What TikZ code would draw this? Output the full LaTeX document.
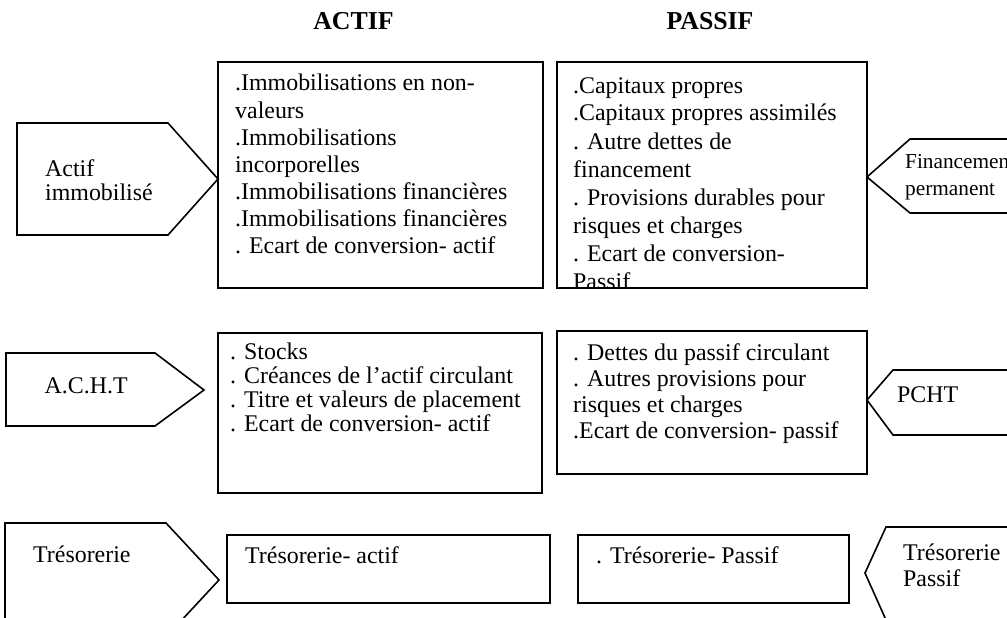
\documentclass[tikz,border=0pt]{standalone}
\usepackage{fontspec}
\setmainfont{Liberation Serif}
\begin{document}
\begin{tikzpicture}[x=1pt,y=-1pt,
  frame/.style={draw=black, line width=1.6pt, line join=miter},
  txt/.style={anchor=base west, inner sep=0pt, font=\fontsize{23.9}{27}\selectfont},
  smalltxt/.style={anchor=base west, inner sep=0pt, font=\fontsize{21.3}{25}\selectfont},
  title/.style={anchor=base, inner sep=0pt, font=\bfseries\fontsize{25.8}{30}\selectfont}]
\clip (0,0) rectangle (1007,618);
\fill[white] (0,0) rectangle (1007,618);

% titles
\node[title] (actif) at (353.5,29.5) {ACTIF};
\node[title] (passif) at (710,29.5) {PASSIF};

% ---------- row 1 ----------
\draw[frame] (17,123) -- (168,123) -- (218,179) -- (168,235) -- (17,235) -- cycle;
\node[txt] (ai1) at (45,176) {Actif};
\node[txt] (ai2) at (45,200) {immobilisé};

\draw[frame] (218,62) rectangle (543,288);
\foreach \t [count=\i] in {{.Immobilisations en non-},{valeurs},{.Immobilisations},{incorporelles},{.Immobilisations financières},{.Immobilisations financières},{. Ecart de conversion- actif}}
  \node[txt] (ba\i) at (235,{91+27*(\i-1)}) {\t};

\draw[frame] (557,62) rectangle (867,288);
\begin{scope}
\clip (557,62) rectangle (867,287);
\foreach \t [count=\i] in {{.Capitaux propres},{.Capitaux propres assimilés},{. Autre dettes de},{financement},{. Provisions durables pour},{risques et charges},{. Ecart de conversion-},{Passif}}
  \node[txt] (bp\i) at (573,{93+28*(\i-1)}) {\t};
\end{scope}

\draw[frame] (867,177) -- (910,139) -- (1020,139) -- (1020,213) -- (910,213) -- cycle;
\node[smalltxt] (fp1) at (905,168) {Financement};
\node[smalltxt] (fp2) at (905,195) {permanent};

% ---------- row 2 ----------
\draw[frame] (6,353) -- (155,353) -- (204,390) -- (155,426) -- (6,426) -- cycle;
\node[txt] (acht) at (44.5,393) {A.C.H.T};

\draw[frame] (218,333) rectangle (542,493);
\foreach \t [count=\i] in {{. Stocks},{. Créances de l’actif circulant},{. Titre et valeurs de placement},{. Ecart de conversion- actif}}
  \node[txt] (bc\i) at (230,{359+24*(\i-1)}) {\t};

\draw[frame] (557,331) rectangle (867,474);
\foreach \t [count=\i] in {{. Dettes du passif circulant},{. Autres provisions pour},{risques et charges},{.Ecart de conversion- passif}}
  \node[txt] (bd\i) at (573,{360+26*(\i-1)}) {\t};

\draw[frame] (867,400) -- (893,370) -- (1020,370) -- (1020,435) -- (893,435) -- cycle;
\node[txt] (pcht) at (897,402.7) {PCHT};

% ---------- row 3 ----------
\draw[frame] (5,523) -- (166,523) -- (219,580) -- (166,637) -- (5,637) -- cycle;
\node[txt] (tres) at (33,562) {Trésorerie};

\draw[frame] (227,535) rectangle (550,603);
\node[txt] (tra) at (245,563) {Trésorerie- actif};

\draw[frame] (578,535) rectangle (849,603);
\node[txt] (trp) at (596,563) {. Trésorerie- Passif};

\draw[frame] (865,573) -- (886,527) -- (1020,527) -- (1020,620) -- (886,620) -- cycle;
\node[txt] (trp1) at (903,560) {Trésorerie};
\node[txt] (trp2) at (903,586) {Passif};
\end{tikzpicture}
\end{document}
